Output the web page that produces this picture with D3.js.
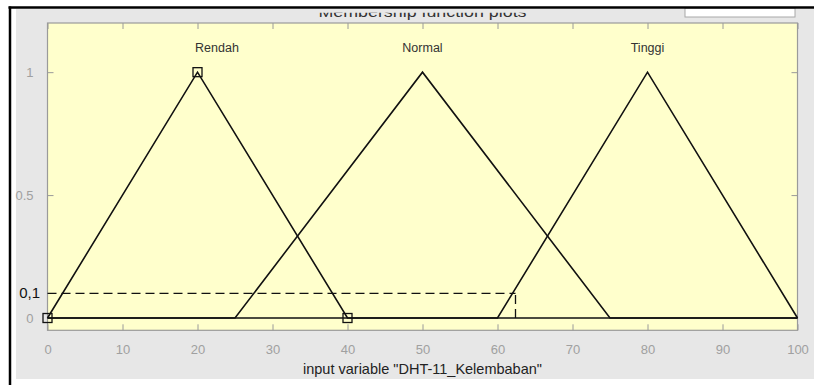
<!DOCTYPE html>
<html>
<head>
<meta charset="utf-8">
<script src="https://cdn.jsdelivr.net/npm/d3@7/dist/d3.min.js"></script>
<style>
  html, body { margin: 0; padding: 0; background: #fff; }
  svg { display: block; font-family: "Liberation Sans", Arial, Helvetica, sans-serif; }
</style>
</head>
<body>
<svg id="chart" width="814" height="385"></svg>
<script>
// Membership functions of the input variable (triangular: a, b, c)
const mfNames = ["Rendah", "Normal", "Tinggi"];
const mfParams = [[0, 20, 40], [25, 50, 75], [60, 80, 100]];
const mfLabelX = [22.6, 50, 80];
const selectedMf = 0;

const xRange = [0, 100];
const xTicks = [0, 10, 20, 30, 40, 50, 60, 70, 80, 90, 100];
const yTicks = [0, 0.5, 1];
const yTickLabels = ["0", "0.5", "1"];

// Cut level annotation
const cutLevel = 0.1;
const cutLabel = "0,1";
const cutX = 62.4;

const titleText = "Membership function plots";
const xLabelText = 'input variable "DHT-11_Kelembaban"';

const svg = d3.select("#chart");
const W = 814, H = 385;

const plot = { left: 47.5, right: 797.5, top: 23, bottom: 330.3 };

const x = d3.scaleLinear().domain(xRange).range([plot.left, plot.right]);
const y = d3.scaleLinear().domain([-0.05, 1.2]).range([plot.bottom, plot.top]);

// Window background
svg.append("rect").attr("x", 0).attr("y", 0).attr("width", W).attr("height", H).attr("fill", "#ffffff");
svg.append("rect").attr("x", 16).attr("y", 9).attr("width", W - 16).attr("height", 370).attr("fill", "#e7e7e7");

// Title (partly hidden beneath the window edge)
const defs = svg.append("defs");
defs.append("clipPath").attr("id", "titleClip")
  .append("rect").attr("x", 0).attr("y", 12.8).attr("width", W).attr("height", 8);
svg.append("text")
  .attr("clip-path", "url(#titleClip)")
  .attr("x", (plot.left + plot.right) / 2)
  .attr("y", 16.8)
  .attr("text-anchor", "middle")
  .attr("font-size", 14)
  .attr("fill", "#333")
  .attr("textLength", 208)
  .attr("lengthAdjust", "spacingAndGlyphs")
  .text(titleText);

// Small white box at the top right
svg.append("rect").attr("x", 685).attr("y", 8).attr("width", 110).attr("height", 9)
  .attr("fill", "#ffffff").attr("stroke", "#a8a8a8").attr("stroke-width", 1);

// Axes area
svg.append("rect")
  .attr("x", plot.left).attr("y", plot.top)
  .attr("width", plot.right - plot.left).attr("height", plot.bottom - plot.top)
  .attr("fill", "#ffffcc");

const tickLen = 6;
const axisColor = "#9a9a9a";

// Bottom axis (ticks point inward)
const gBottom = svg.append("g").attr("transform", `translate(0,${plot.bottom})`)
  .call(d3.axisBottom(x).tickValues(xTicks).tickSizeInner(-tickLen).tickSizeOuter(0).tickPadding(tickLen + 8));
gBottom.select(".domain").remove();
gBottom.selectAll(".tick line").attr("stroke", axisColor);
gBottom.selectAll(".tick text").attr("fill", "#a0a0a0").attr("font-size", 13)
  .attr("font-family", "'Liberation Sans', Arial, sans-serif");

// Top axis ticks
const gTop = svg.append("g").attr("transform", `translate(0,${plot.top})`)
  .call(d3.axisTop(x).tickValues(xTicks).tickSizeInner(-tickLen).tickSizeOuter(0).tickFormat(""));
gTop.select(".domain").remove();
gTop.selectAll(".tick line").attr("stroke", axisColor);

// Left axis
const gLeft = svg.append("g").attr("transform", `translate(${plot.left},0)`)
  .call(d3.axisLeft(y).tickValues(yTicks).tickFormat((d, i) => yTickLabels[i])
    .tickSizeInner(-tickLen).tickSizeOuter(0).tickPadding(tickLen + 8));
gLeft.select(".domain").remove();
gLeft.selectAll(".tick line").attr("stroke", axisColor);
gLeft.selectAll(".tick text").attr("fill", "#a0a0a0").attr("font-size", 13)
  .attr("font-family", "'Liberation Sans', Arial, sans-serif");

// Right axis ticks
const gRight = svg.append("g").attr("transform", `translate(${plot.right},0)`)
  .call(d3.axisRight(y).tickValues(yTicks).tickSizeInner(-tickLen).tickSizeOuter(0).tickFormat(""));
gRight.select(".domain").remove();
gRight.selectAll(".tick line").attr("stroke", axisColor);

// Axes box
svg.append("rect")
  .attr("x", plot.left).attr("y", plot.top)
  .attr("width", plot.right - plot.left).attr("height", plot.bottom - plot.top)
  .attr("fill", "none").attr("stroke", axisColor).attr("stroke-width", 1.2);

// Membership function curves
const line = d3.line().x(d => x(d[0])).y(d => y(d[1]));
mfParams.forEach(p => {
  const pts = [[xRange[0], 0], [p[0], 0], [p[1], 1], [p[2], 0], [xRange[1], 0]];
  svg.append("path").attr("d", line(pts))
    .attr("fill", "none").attr("stroke", "#111").attr("stroke-width", 1.6)
    .attr("stroke-linejoin", "miter");
});

// Markers on the selected membership function
const sel = mfParams[selectedMf];
const sq = 9;
svg.selectAll("rect.marker")
  .data([[sel[0], 0], [sel[1], 1], [sel[2], 0]])
  .join("rect")
  .attr("class", "marker")
  .attr("x", d => x(d[0]) - sq / 2).attr("y", d => y(d[1]) - sq / 2)
  .attr("width", sq).attr("height", sq)
  .attr("fill", "none").attr("stroke", "#111").attr("stroke-width", 1.3);

// Membership function names
svg.selectAll("text.mf")
  .data(mfNames)
  .join("text")
  .attr("class", "mf")
  .attr("x", (d, i) => x(mfLabelX[i]))
  .attr("y", 51.5)
  .attr("text-anchor", "middle")
  .attr("font-size", 12.5)
  .attr("fill", "#333")
  .text(d => d);

// Cut level: dashed guide lines
svg.append("line")
  .attr("x1", x(0)).attr("x2", x(cutX))
  .attr("y1", y(cutLevel)).attr("y2", y(cutLevel))
  .attr("stroke", "#111").attr("stroke-width", 1.3).attr("stroke-dasharray", "9,5");
svg.append("line")
  .attr("x1", x(cutX)).attr("x2", x(cutX))
  .attr("y1", y(0)).attr("y2", y(cutLevel))
  .attr("stroke", "#111").attr("stroke-width", 1.3).attr("stroke-dasharray", "9,5");
svg.append("text")
  .attr("x", 40).attr("y", y(cutLevel) + 5)
  .attr("text-anchor", "end")
  .attr("font-size", 15)
  .attr("fill", "#111")
  .text(cutLabel);

// X axis title
svg.append("text")
  .attr("x", (plot.left + plot.right) / 2)
  .attr("y", 373.5)
  .attr("text-anchor", "middle")
  .attr("font-size", 14.5)
  .attr("fill", "#222")
  .text(xLabelText);

// Window frame edges
svg.append("line").attr("x1", 8.5).attr("x2", W).attr("y1", 7.5).attr("y2", 7.5)
  .attr("stroke", "#000").attr("stroke-width", 2.5);
svg.append("line").attr("x1", 10).attr("x2", 10).attr("y1", 6.5).attr("y2", H)
  .attr("stroke", "#000").attr("stroke-width", 2.5);
</script>
</body>
</html>
